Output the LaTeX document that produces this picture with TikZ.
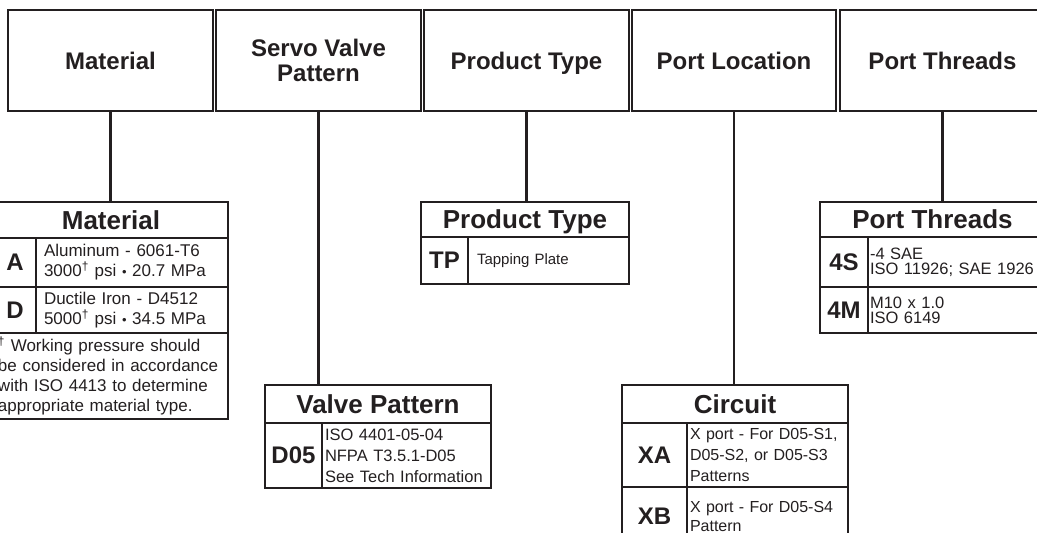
\documentclass[tikz,border=0pt]{standalone}
\usepackage{fontspec}
\setmainfont{Liberation Sans}
\usetikzlibrary{calc}

\definecolor{ink}{HTML}{231F20}
\newcommand{\psidot}{{\fontsize{13}{13}\selectfont •}}

\tikzset{
  hdr/.style={draw=ink, line width=2.8pt, outer sep=0pt, inner sep=0pt, anchor=north west,
    minimum height=101pt, align=center, text=ink, text depth=0pt,
    font=\fontsize{24}{25}\selectfont\bfseries},
  cell/.style={draw=ink, line width=1.8pt, outer sep=0pt, anchor=north west, text=ink},
  ttl/.style={cell, inner sep=0pt, line width=2.2pt, text depth=0pt,
    font=\fontsize{26}{28}\selectfont\bfseries},
  code/.style={cell, inner sep=0pt, font=\fontsize{24}{26}\selectfont\bfseries},
  desc/.style={cell, inner ysep=0pt, inner xsep=3pt, align=left},
  frame/.style={draw=ink, line width=2.8pt},
  link/.style={draw=ink, line width=2.3pt}
}

\begin{document}
\begin{tikzpicture}[x=1pt, y=-1pt]
    \useasboundingbox (0,0) rectangle (1037,533);
    \clip (0,0) rectangle (1037,533);

    % Header row
    \node[hdr, minimum width=205pt] (hMat) at (8,10) {Material};
    \node[hdr, minimum width=205pt] (hServo) at (216,10) {Servo Valve\\Pattern};
    \node[hdr, minimum width=205pt] (hProd) at (424,10) {Product Type};
    \node[hdr, minimum width=204pt] (hLoc) at (632,10) {Port Location};
    \node[hdr, minimum width=205pt] (hThr) at (840,10) {Port Threads};

    % Material table
    \node[ttl, minimum width=234pt, minimum height=36pt] (tMat) at (-6,202) {Material};
    \node[code, minimum width=42pt, minimum height=49pt] (cA) at (tMat.south west) {A};
    \node[desc, inner xsep=8pt, text width=176pt, minimum height=49pt,
      font=\fontsize{17}{20}\selectfont] (dA) at (cA.north east)
      {Aluminum - 6061-T6\\3000\textsuperscript{†} psi \psidot{} 20.7 MPa};
    \node[code, minimum width=42pt, minimum height=46pt] (cD) at (cA.south west) {D};
    \node[desc, inner xsep=8pt, text width=176pt, minimum height=46pt,
      font=\fontsize{17}{20}\selectfont] (dD) at (cD.north east)
      {Ductile Iron - D4512\\5000\textsuperscript{†} psi \psidot{} 34.5 MPa};
    \node[desc, inner xsep=4pt, text width=226pt, minimum height=86pt,
      font=\fontsize{17}{20}\selectfont] (fMat) at (cD.south west)
      {\textsuperscript{†} Working pressure should\\be considered in accordance\\with ISO 4413 to determine\\appropriate material type.};
    \draw[frame] (tMat.north west) rectangle (fMat.south east);

    % Product type table
    \node[ttl, minimum width=208pt, minimum height=35pt] (tPT) at (421,202) {Product Type};
    \node[code, minimum width=47pt, minimum height=47pt] (cTP) at (tPT.south west) {TP};
    \node[desc, inner xsep=9pt, text width=143pt, minimum height=47pt,
      font=\fontsize{15}{17}\selectfont] (dTP) at (cTP.north east) {Tapping Plate};
    \draw[frame] (tPT.north west) rectangle (dTP.south east);

    % Port threads table
    \node[ttl, minimum width=225pt, minimum height=35pt] (tThr) at (820,202) {Port Threads};
    \node[code, minimum width=48pt, minimum height=50pt] (c4S) at (tThr.south west) {4S};
    \node[desc, inner xsep=2pt, text width=173pt, minimum height=50pt,
      font=\fontsize{16.5}{15}\selectfont] (d4S) at (c4S.north east) {-4 SAE\\ISO 11926; SAE 1926};
    \node[code, minimum width=48pt, minimum height=46pt] (c4M) at (c4S.south west) {4M};
    \node[desc, inner xsep=2pt, text width=173pt, minimum height=46pt,
      font=\fontsize{16.5}{15}\selectfont] (d4M) at (c4M.north east) {M10 x 1.0\\ISO 6149};
    \draw[frame] (tThr.north west) rectangle (d4M.south east);

    % Valve pattern table
    \node[ttl, minimum width=226pt, minimum height=38pt] (tVal) at (265,385) {Valve Pattern};
    \node[code, minimum width=57pt, minimum height=65pt] (cD05) at (tVal.south west) {D05};
    \node[desc, text width=163pt, minimum height=65pt,
      font=\fontsize{16.5}{21}\selectfont] (dD05) at (cD05.north east)
      {ISO 4401-05-04\\NFPA T3.5.1-D05\\See Tech Information};
    \draw[frame] (tVal.north west) rectangle (dD05.south east);

    % Circuit table
    \node[ttl, minimum width=226pt, minimum height=38pt] (tCir) at (622,385) {Circuit};
    \node[code, minimum width=65pt, minimum height=64pt] (cXA) at (tCir.south west) {XA};
    \node[desc, text width=155pt, minimum height=64pt,
      font=\fontsize{16}{21}\selectfont] (dXA) at (cXA.north east)
      {X port - For D05-S1,\\D05-S2, or D05-S3\\Patterns};
    \node[code, minimum width=65pt, minimum height=58pt] (cXB) at (cXA.south west) {XB};
    \node[desc, text width=155pt, minimum height=58pt,
      font=\fontsize{16}{19}\selectfont] (dXB) at (cXB.north east)
      {X port - For D05-S4\\Pattern};
    \draw[frame] (tCir.north west) rectangle (dXB.south east);

    % Lines from header boxes down to the tables
    \draw[link] (hMat.south) -- (hMat.south |- tMat.north);
    \draw[link] (hServo.south) -- (hServo.south |- tVal.north);
    \draw[link] (hProd.south) -- (hProd.south |- tPT.north);
    \draw[link] (hLoc.south) -- (hLoc.south |- tCir.north);
    \draw[link] (hThr.south) -- (hThr.south |- tThr.north);
\end{tikzpicture}
\end{document}
